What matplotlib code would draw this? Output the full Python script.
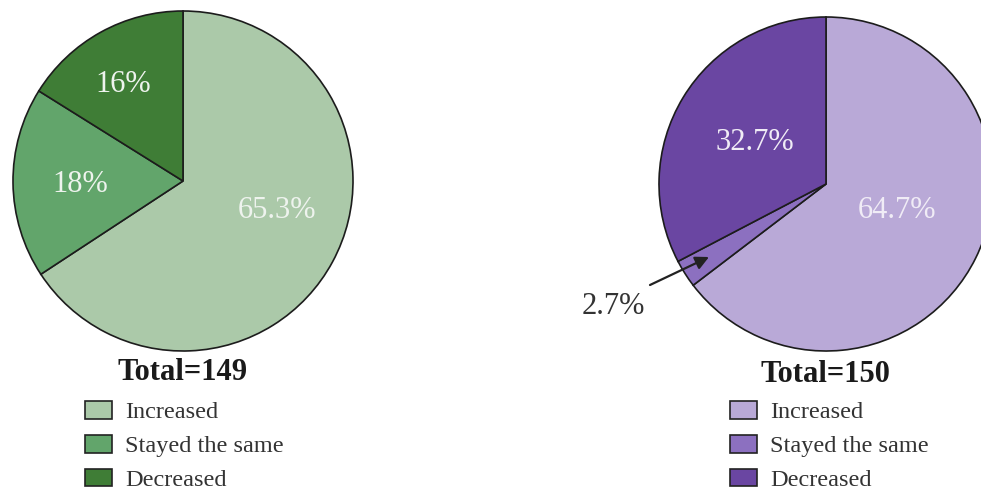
import numpy as np
import matplotlib
matplotlib.use('Agg')
import matplotlib.pyplot as plt
from matplotlib.patches import Patch

#=============== data ===============================
categories = ["Increased", "Stayed the same", "Decreased"]
left_values = [65.3, 18.0, 16.0]
right_values = [64.7, 2.7, 32.7]
left_labels = ["65.3%", "18%", "16%"]
right_labels = ["64.7%", "2.7%", "32.7%"]
left_total = "Total=149"
right_total = "Total=150"

greens = ["#abc9a9", "#62a56b", "#3f7d36"]
purples = ["#b9a9d7", "#8c70c0", "#6a46a2"]

plt.rcParams['font.family'] = ['Liberation Serif', 'DejaVu Serif']

H = 492.
fig = plt.figure(figsize=(9.81, 4.92), dpi=100)
ax = fig.add_axes([0, 0, 1, 1])
ax.set_aspect('equal')
ax.axis('off')

wedge_style = dict(edgecolor="#1c1c1c", linewidth=1.2)

#----- pies -----
ax.pie(left_values, colors=greens, startangle=90, counterclock=False,
       center=(183, H - 181), radius=170, wedgeprops=wedge_style, normalize=True)
ax.pie(right_values, colors=purples, startangle=90, counterclock=False,
       center=(826, H - 184), radius=167, wedgeprops=wedge_style, normalize=True)
ax.set_xlim(0, 981)
ax.set_ylim(0, H)

lab_kw = dict(fontsize=22, color="#eef3ee", ha="center", va="center")
ax.text(277, H - 210, left_labels[0], **lab_kw)
ax.text(80, H - 185, left_labels[1], **lab_kw)
ax.text(123, H - 85, left_labels[2], **lab_kw)

lab_kw["color"] = "#f0ecf6"
ax.text(897, H - 210, right_labels[0], **lab_kw)
ax.text(755, H - 143, right_labels[2], **lab_kw)

# small slice annotation
ax.text(613, H - 306, right_labels[1], fontsize=22, color="#333333",
        ha="center", va="center")
ax.annotate("", xy=(709, H - 257), xytext=(650, H - 285),
            arrowprops=dict(arrowstyle="-|>", color="#222222", lw=1.6,
                            shrinkA=0, shrinkB=0, mutation_scale=20))

#----- totals -----
ax.text(183, H - 373, left_total, fontsize=22, fontweight="bold",
        ha="center", va="center", color="#1a1a1a")
ax.text(825, H - 375, right_total, fontsize=22, fontweight="bold",
        ha="center", va="center", color="#1a1a1a")

#----- legends -----
def make_legend(colors, x, y):
    handles = [Patch(facecolor=c, edgecolor="#222222", linewidth=1.2, label=l)
               for c, l in zip(colors, categories)]
    leg = ax.legend(handles=handles, loc="upper left", bbox_to_anchor=(x, y),
                    bbox_transform=ax.transData, frameon=False, fontsize=17.5,
                    handlelength=1.1, handleheight=0.75, handletextpad=0.55,
                    labelspacing=0.47, borderpad=0, borderaxespad=0,
                    labelcolor="#333333")
    return leg

leg1 = make_legend(greens, 85, H - 401)
ax.add_artist(leg1)
leg2 = make_legend(purples, 730, H - 401)

fig.savefig("out.png", dpi=100)
